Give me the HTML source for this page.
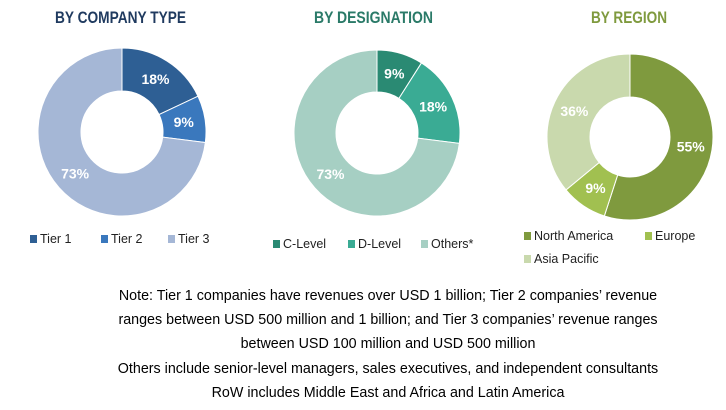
<!DOCTYPE html>
<html><head><meta charset="utf-8"><style>
body{margin:0;width:726px;height:410px;background:#fff;font-family:"Liberation Sans",sans-serif;overflow:hidden}
svg{position:absolute;left:0;top:0}
.note{position:absolute;left:48px;width:680px;text-align:center;font-size:14.3px;color:#000;white-space:nowrap}
</style></head><body>
<svg id="c" width="726" height="410"></svg>
<div class="note" style="top:288px">Note: Tier 1 companies have revenues over USD 1 billion; Tier 2 companies’ revenue</div>
<div class="note" style="top:312px">ranges between USD 500 million and 1 billion; and Tier 3 companies’ revenue ranges</div>
<div class="note" style="top:336px">between USD 100 million and USD 500 million</div>
<div class="note" style="top:361px">Others include senior-level managers, sales executives, and independent consultants</div>
<div class="note" style="top:385px">RoW includes Middle East and Africa and Latin America</div>
<script>
const companyLabels=["Tier 1","Tier 2","Tier 3"];
const companyValues=[18,9,73];
const designationLabels=["C-Level","D-Level","Others*"];
const designationValues=[9,18,73];
const regionLabels=["North America","Europe","Asia Pacific"];
const regionValues=[55,9,36];
const NS="http://www.w3.org/2000/svg";
const svg=document.getElementById('c');
function mk(t,a){const e=document.createElementNS(NS,t);for(const k in a)e.setAttribute(k,a[k]);svg.appendChild(e);return e;}
const charts=[
 {name:'company-type',title:'BY COMPANY TYPE',tc:'#1f3a5f',tx:55,tw:131,cx:122,cy:132,r:84,ri:41,labels:companyLabels,vals:companyValues,cols:['#2e5f94','#3a78bd','#a5b7d6'],
  leg:[[30,243],[101,243],[168,243]]},
 {name:'designation',title:'BY DESIGNATION',tc:'#2a7a68',tx:314,tw:119,cx:377,cy:133,r:83,ri:41,labels:designationLabels,vals:designationValues,cols:['#2a8a73','#3aab94','#a6cfc3'],
  leg:[[273,248],[348,248],[421,248]]},
 {name:'region',title:'BY REGION',tc:'#7f9a3e',tx:591,tw:76,cx:630,cy:137,r:83,ri:40,labels:regionLabels,vals:regionValues,cols:['#7f9a3e','#a1c050','#c9d9ad'],
  leg:[[524,240],[645,240],[524,263]]}
];
charts.forEach(c=>{
 const t=mk('text',{x:c.tx,y:23,textLength:c.tw,lengthAdjust:'spacingAndGlyphs','font-size':'17','font-weight':'bold',fill:c.tc});
 t.textContent=c.title;
 
 
 const tot=c.vals.reduce((a,b)=>a+b,0);let a0=0;
 c.vals.forEach((v,i)=>{
  const a1=a0+v/tot*2*Math.PI;
  const p=(a,r)=>[c.cx+r*Math.sin(a),c.cy-r*Math.cos(a)];
  const [x0,y0]=p(a0,c.r),[x1,y1]=p(a1,c.r),[x2,y2]=p(a1,c.ri),[x3,y3]=p(a0,c.ri);
  const lg=(a1-a0)>Math.PI?1:0;
  const s=mk('path',{d:`M${x0},${y0}A${c.r},${c.r} 0 ${lg} 1 ${x1},${y1}L${x2},${y2}A${c.ri},${c.ri} 0 ${lg} 0 ${x3},${y3}Z`,fill:c.cols[i],stroke:'#fff','stroke-width':'1'});
  
  
  const [lx,ly]=p((a0+a1)/2,(c.r+c.ri)/2);
  const l=mk('text',{x:lx,y:ly+5,'text-anchor':'middle','font-size':'14','font-weight':'bold',fill:'#fff'});
  l.textContent=v+'%';
  
  
  const [gx,gy]=c.leg[i];
  const r=mk('rect',{x:gx,y:gy-8,width:7,height:8,fill:c.cols[i]});
  
  
  const lt=mk('text',{x:gx+10,y:gy,'font-size':'12.5',fill:'#222'});
  lt.textContent=c.labels[i];
  
  
  a0=a1;
 });
});
</script>
</body></html>
